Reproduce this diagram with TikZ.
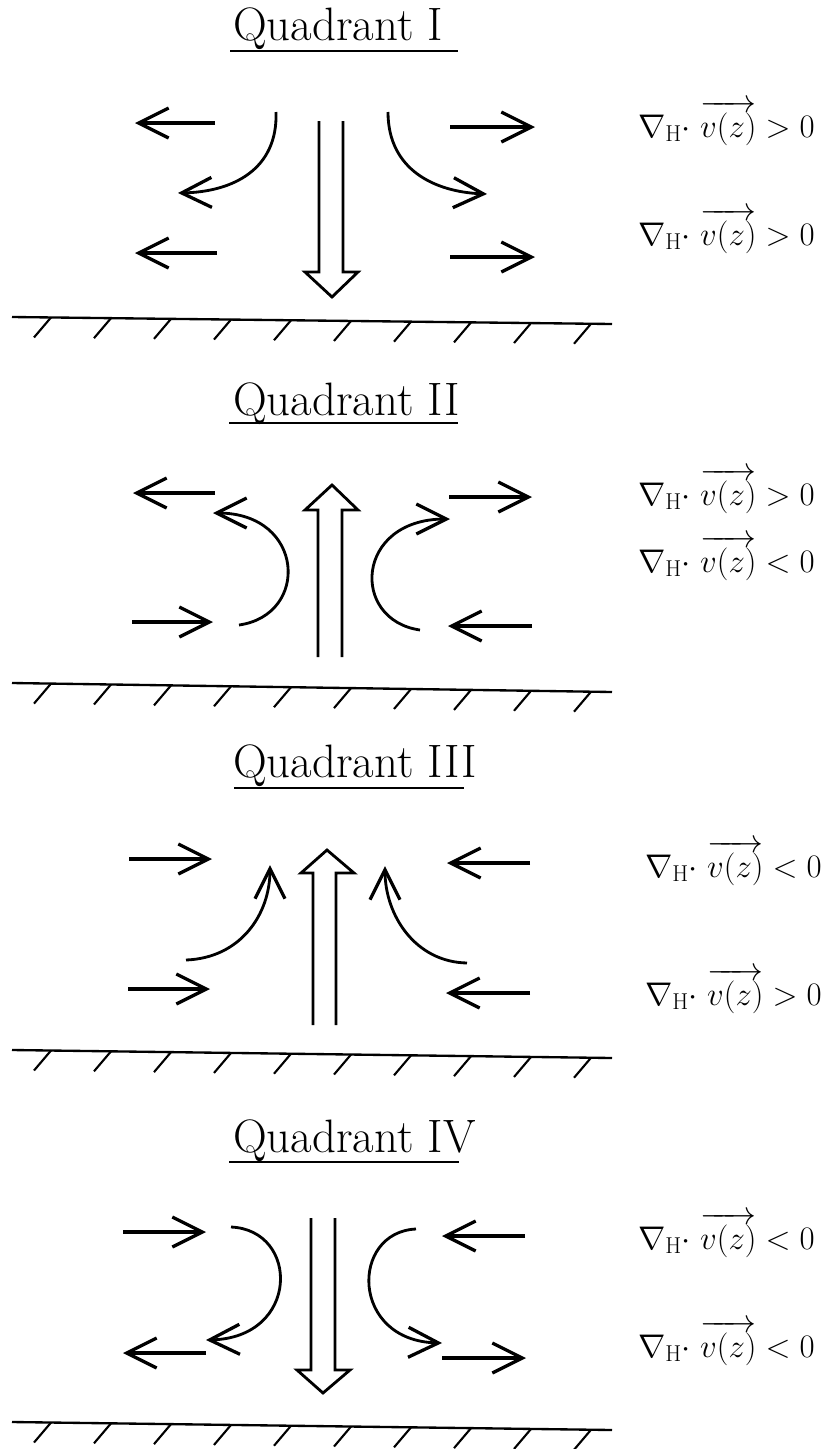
\RequirePackage{fix-cm}
\documentclass[tikz,border=0pt]{standalone}
\usepackage{amsmath}
\usetikzlibrary{arrows.meta,calc}

\begin{document}
\begin{tikzpicture}[
    x=0.03cm, y=-0.03cm,
    flow/.style={line width=3.4pt, -{Straight Barb[length=9mm, width=9mm, line width=2.8pt]}},
    curl/.style={line width=2.4pt, -{Straight Barb[length=9mm, width=9mm, line width=2.8pt]}},
    shaft/.style={line width=2.4pt, line join=miter},
    ground/.style={line width=2pt},
    hatch/.style={line width=1.8pt},
    title/.style={font=\fontsize{40}{44}\selectfont, anchor=base west, inner sep=0pt},
    uline/.style={line width=1.8pt},
    lbl/.style={font=\fontsize{28}{32}\selectfont, anchor=base east, inner sep=0pt}
]
\useasboundingbox (0,0) rectangle (827,1449);
\clip (0,0) rectangle (827,1449);

% Titles with underlines
\foreach \name/\nm/\yb/\yu/\xa/\xb in {
    tI/I/40/51/230/458,
    tII/II/415/423/229/458,
    tIII/III/777/788/234/464,
    tIV/IV/1152/1162/229/459
} {
    \node[title] (\name) at (233,\yb) {Quadrant \nm};
    \draw[uline] (\xa,\yu) -- (\xb,\yu);
}

% Ground lines with hatching
\foreach \ya/\yb in {317/324, 683/692, 1050/1058, 1422/1430} {
    \coordinate (gl) at (12,\ya);
    \coordinate (gr) at (612,\yb);
    \draw[ground] (gl) -- (gr);
    \foreach \k in {0,...,9}
        \draw[hatch] ($(gl)!{0.065+0.1*\k}!(gr)$) -- ++(-17,20);
}

% Quadrant I
\draw[flow] (215,123) -- (135,123);
\draw[flow] (217,253) -- (135,253);
\draw[flow] (450,127) -- (535,127);
\draw[flow] (450,257) -- (535,257);
\draw[curl] (276,112) .. controls (278,170) and (232,192) .. (178,193);
\draw[curl] (388,112) .. controls (388,170) and (435,192) .. (487,194);
\draw[shaft] (319,121) -- (319,272) -- (305,272) -- (332,297) -- (358,272) -- (343,272) -- (343,121);

% Quadrant II
\draw[flow] (215,493) -- (133,493);
\draw[flow] (449,497) -- (532,497);
\draw[flow] (132,622) -- (213,622);
\draw[flow] (532,626) -- (448,626);
\draw[curl] (239,625) .. controls (310,615) and (305,513) .. (213,513);
\draw[curl] (420,630) .. controls (350,620) and (355,519) .. (450,519);
\draw[shaft] (318,657) -- (318,510) -- (305,510) -- (332,485) -- (358,510) -- (342,510) -- (342,657);

% Quadrant III
\draw[flow] (129,859) -- (212,859);
\draw[flow] (128,989) -- (210,989);
\draw[flow] (530,863) -- (447,863);
\draw[flow] (530,993) -- (446,993);
\draw[curl] (186,960) .. controls (240,958) and (270,915) .. (270,865);
\draw[curl] (467,963) .. controls (415,962) and (385,915) .. (385,866);
\draw[shaft] (313,1025) -- (313,873) -- (301,873) -- (327,850) -- (354,873) -- (336,873) -- (336,1025);

% Quadrant IV
\draw[flow] (123,1232) -- (206,1232);
\draw[flow] (525,1236) -- (442,1236);
\draw[flow] (206,1353) -- (123,1353);
\draw[flow] (442,1358) -- (526,1358);
\draw[curl] (231,1227) .. controls (300,1230) and (300,1338) .. (206,1340);
\draw[curl] (416,1229) .. controls (350,1232) and (350,1341) .. (442,1343);
\draw[shaft] (311,1218) -- (311,1370) -- (297,1370) -- (323,1393) -- (350,1370) -- (335,1370) -- (335,1218);

% Divergence labels
\foreach \name/\y/\x/\rel in {
    lIa/137/815/>, lIb/245/815/>,
    lIIa/505/815/>, lIIb/572/815/<,
    lIIIa/877/822/<, lIIIb/1005/822/>,
    lIVa/1249/815/<, lIVb/1357/815/<
} {
    \node[lbl] (\name) at (\x,\y) {$\nabla_{\mathrm{H}}{\cdot}\;\overrightarrow{v(z)}\rel 0$};
}
\end{tikzpicture}
\end{document}
